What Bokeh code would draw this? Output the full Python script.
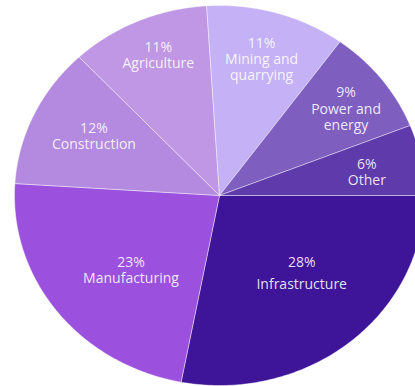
import numpy as np
from bokeh.plotting import figure
from bokeh.models import Range1d, ColumnDataSource
from bokeh.core.properties import value
from bokeh.embed import file_html
from bokeh.resources import INLINE

# ---- data ----
categories = ["Infrastructure", "Manufacturing", "Construction", "Agriculture",
              "Mining and\nquarrying", "Power and\nenergy", "Other"]
shares = [28, 23, 12, 11, 11, 9, 6]
colors = ["#3e1498", "#9b50de", "#b38ae0", "#c097e4", "#c4b1f6", "#7e5fbf", "#5f3aab"]

# ---- layout ----
W, H = 415, 386
cx, cy = 219, 195          # pie centre (screen px, y down)
rx, ry = 205, 190          # pie radii
label_r = [0.57, 0.58, 0.69, 0.80, 0.75, 0.77, 0.73]
label_nudge = [-5.1, -4.1, 2.2, 1.5, -0.3, 1.1, 0.8]   # degrees

p = figure(width=W, height=H, output_backend="svg", toolbar_location=None,
           x_range=Range1d(0, W), y_range=Range1d(H, 0),
           min_border=0, outline_line_color=None, background_fill_color="white")
p.axis.visible = False
p.grid.visible = False

total = float(sum(shares))
ends = np.cumsum(shares) / total * 360.0
starts = np.concatenate([[0.0], ends[:-1]])

xs, ys, lx, ly = [], [], [], []
for i, (a0, a1) in enumerate(zip(starts, ends)):
    t = np.radians(np.linspace(a0, a1, 120))
    xs.append(np.concatenate([[cx], cx + rx * np.cos(t), [cx]]))
    ys.append(np.concatenate([[cy], cy + ry * np.sin(t), [cy]]))
    m = np.radians((a0 + a1) / 2 + label_nudge[i])
    lx.append(cx + label_r[i] * rx * np.cos(m))
    ly.append(cy + label_r[i] * ry * np.sin(m))

p.patches(xs, ys, fill_color=colors, line_color="white", line_width=0.6, line_alpha=0.7)

labels = [f"{s}%\n{c}" for s, c in zip(shares, categories)]
src_main = ColumnDataSource(dict(x=lx[1:], y=ly[1:], t=labels[1:]))
src_inf = ColumnDataSource(dict(x=lx[:1], y=ly[:1], t=labels[:1]))

common = dict(text="t", text_align="center", text_baseline="middle",
              text_color="white", text_alpha=0.88, text_font=value("Open Sans"),
              text_font_size="14px")
p.text(x="x", y="y", source=src_main, text_line_height=0.85, **common)
p.text(x="x", y="y", source=src_inf, text_line_height=1.2, **common)

open("out.html", "w").write(file_html(p, INLINE))
